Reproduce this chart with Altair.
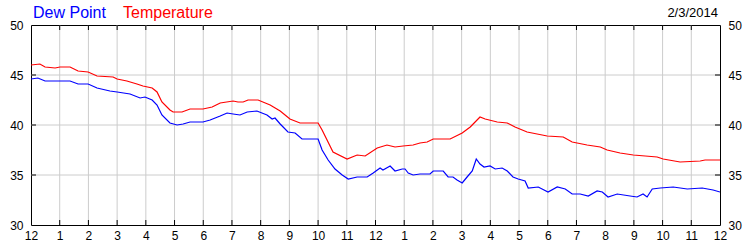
import altair as alt
import pandas as pd

# ---- data (hours since midnight, degrees F) ----
temp_hours = [0.00, 0.31, 0.49, 0.84, 1.01, 1.36, 1.64, 1.99, 2.30, 2.86, 3.00, 3.34, 3.69, 3.90,
              4.22, 4.39, 4.56, 4.84, 4.95, 5.26, 5.54, 5.99, 6.31, 6.59, 7.04, 7.21, 7.39, 7.56,
              7.91, 8.33, 8.68, 9.02, 9.37, 10.00, 10.14, 10.52, 11.01, 11.36, 11.64, 12.06, 12.40,
              12.68, 12.96, 13.31, 13.55, 13.80, 14.01, 14.60, 15.02, 15.30, 15.64, 15.82, 16.24,
              16.59, 16.86, 17.28, 17.98, 18.54, 18.85, 19.37, 19.83, 20.07, 20.52, 20.98, 21.81,
              22.02, 22.61, 23.31, 23.48, 24.00]
temp_vals = [46.0, 46.1, 45.8, 45.7, 45.8, 45.8, 45.4, 45.3, 44.9, 44.8, 44.6, 44.4, 44.1, 43.9,
             43.7, 43.3, 42.3, 41.5, 41.3, 41.3, 41.6, 41.6, 41.8, 42.2, 42.4, 42.3, 42.3, 42.5,
             42.5, 42.0, 41.4, 40.6, 40.2, 40.2, 39.5, 37.3, 36.6, 37.0, 36.9, 37.7, 38.0,
             37.8, 37.9, 38.0, 38.2, 38.3, 38.6, 38.6, 39.2, 39.8, 40.8, 40.6, 40.3,
             40.2, 39.8, 39.3, 38.9, 38.8, 38.3, 38.0, 37.8, 37.5, 37.2, 37.0, 36.8,
             36.6, 36.3, 36.4, 36.5, 36.5]

dew_hours = [0.00, 0.24, 0.49, 1.36, 1.64, 1.99, 2.30, 2.75, 3.00, 3.45, 3.80, 3.97, 4.22, 4.39,
             4.56, 4.84, 5.09, 5.30, 5.54, 5.99, 6.24, 6.59, 6.83, 7.04, 7.28, 7.53, 7.87, 8.22,
             8.40, 8.50, 8.68, 8.95, 9.20, 9.44, 10.00, 10.14, 10.35, 10.59, 10.84, 11.05, 11.36,
             11.71, 11.92, 12.16, 12.26, 12.51, 12.68, 12.93, 13.03, 13.14, 13.31, 13.55, 13.90,
             14.01, 14.36, 14.53, 14.70, 14.84, 15.02, 15.19, 15.37, 15.51, 15.64, 15.78, 15.99,
             16.17, 16.41, 16.59, 16.79, 16.97, 17.21, 17.32, 17.67, 18.01, 18.33, 18.61, 18.85,
             19.13, 19.41, 19.72, 19.90, 20.10, 20.42, 20.87, 21.11, 21.32, 21.46, 21.64, 21.92,
             22.37, 22.86, 23.38, 23.76, 24.00]
dew_vals = [44.6, 44.7, 44.4, 44.4, 44.1, 44.1, 43.7, 43.4, 43.3, 43.1, 42.7, 42.8, 42.5, 42.0,
            41.0, 40.2, 40.0, 40.1, 40.3, 40.3, 40.5, 40.9, 41.2, 41.1, 41.0, 41.3, 41.4, 41.0,
            40.6, 40.7, 40.1, 39.3, 39.2, 38.6, 38.6, 37.5, 36.5, 35.6, 35.0, 34.6, 34.8,
            34.8, 35.2, 35.7, 35.5, 35.9, 35.4, 35.6, 35.6, 35.2, 35.0, 35.1, 35.1,
            35.4, 35.4, 34.8, 34.8, 34.5, 34.2, 34.8, 35.4, 36.6, 36.1, 35.8, 35.9,
            35.6, 35.7, 35.4, 34.8, 34.6, 34.4, 33.7, 33.8, 33.3, 33.8, 33.6, 33.1,
            33.1, 32.9, 33.4, 33.3, 32.8, 33.1, 32.9, 32.8, 33.1, 32.8, 33.6, 33.7,
            33.8, 33.6, 33.7, 33.5, 33.3]

series_names = ["Dew Point", "Temperature"]
series_colors = ["#0000ff", "#ff0000"]
hour_ticks = list(range(0, 25))
inner_hours = list(range(1, 24))
deg_labels = [30, 35, 40, 45, 50]
deg_inner = [35, 40, 45]
date_text = ["2/3/2014"]

# ---- tables ----
df = pd.concat([
    pd.DataFrame({"h": dew_hours, "v": dew_vals, "s": series_names[0]}),
    pd.DataFrame({"h": temp_hours, "v": temp_vals, "s": series_names[1]}),
], ignore_index=True)
hours_df = pd.DataFrame({"h": inner_hours})
deg_df = pd.DataFrame({"v": deg_inner})

W, H = 689, 200
FONT = "Liberation Sans"
GRID = "#cccccc"

xs = alt.Scale(domain=[0, 24], nice=False, zero=False)
ys = alt.Scale(domain=[30, 50], nice=False, zero=False)

x_axis = alt.Axis(values=hour_ticks,
                  labelExpr="datum.value % 12 == 0 ? '12' : '' + (datum.value % 12)",
                  grid=False, ticks=False, domain=False, labelFont=FONT, labelFontSize=12,
                  labelColor="#000000", labelPadding=5, title=None, labelFlush=False,
                  labelOverlap=False)
y_left = alt.Axis(values=deg_labels, orient="left", grid=False, ticks=False, domain=False,
                  labelFont=FONT, labelFontSize=12, labelColor="#000000", labelPadding=8,
                  title=None, labelBaseline="middle")
y_right = alt.Axis(values=deg_labels, orient="right", grid=False, ticks=False, domain=False,
                   labelFont=FONT, labelFontSize=12, labelColor="#000000", labelPadding=8,
                   title=None, labelBaseline="middle")

X = alt.X("h:Q", scale=xs, axis=x_axis)

vgrid = alt.Chart(hours_df).mark_rule(color=GRID, strokeWidth=1).encode(
    x=X, y=alt.value(0), y2=alt.value(H))
hgrid = alt.Chart(deg_df).mark_rule(color=GRID, strokeWidth=1).encode(
    y=alt.Y("v:Q", scale=ys, axis=None), x=alt.value(0), x2=alt.value(W))

tick_top = alt.Chart(hours_df).mark_rule(color="#000000").encode(
    x=X, y=alt.value(0), y2=alt.value(5))
tick_bot = alt.Chart(hours_df).mark_rule(color="#000000").encode(
    x=X, y=alt.value(H - 5), y2=alt.value(H))
tick_left = alt.Chart(deg_df).mark_rule(color="#000000").encode(
    y=alt.Y("v:Q", scale=ys, axis=None), x=alt.value(0), x2=alt.value(5))
tick_right = alt.Chart(deg_df).mark_rule(color="#000000").encode(
    y=alt.Y("v:Q", scale=ys, axis=y_right), x=alt.value(W - 5), x2=alt.value(W))

lines = alt.Chart(df).mark_line(strokeWidth=1.2, clip=True).encode(
    x=X,
    y=alt.Y("v:Q", scale=ys, axis=y_left),
    color=alt.Color("s:N", scale=alt.Scale(domain=series_names, range=series_colors), legend=None),
    detail="s:N",
)

leg_df = pd.DataFrame({"t": series_names, "c": series_colors, "px": [2, 92]})
legend = alt.Chart(leg_df).mark_text(font=FONT, fontSize=16, align="left",
                                     baseline="alphabetic").encode(
    x=alt.X("px:Q", scale=None), y=alt.value(-7), text="t:N",
    color=alt.Color("c:N", scale=None))

date = alt.Chart(pd.DataFrame({"t": date_text})).mark_text(
    font=FONT, fontSize=13, align="right", baseline="alphabetic", color="#000000").encode(
    x=alt.value(W - 2), y=alt.value(-8), text="t:N")

chart = alt.layer(vgrid, hgrid, tick_top, tick_bot, tick_left, tick_right, lines, legend, date
                  ).resolve_axis(y="independent", x="shared").properties(
    width=W, height=H,
    autosize=alt.AutoSizeParams(type="none"),
    padding={"left": 31, "top": 25, "right": 30, "bottom": 25},
    background="#ffffff",
).configure_view(stroke="#000000", strokeWidth=1)

chart.save("out.html", embed_options={"renderer": "svg", "actions": False})
